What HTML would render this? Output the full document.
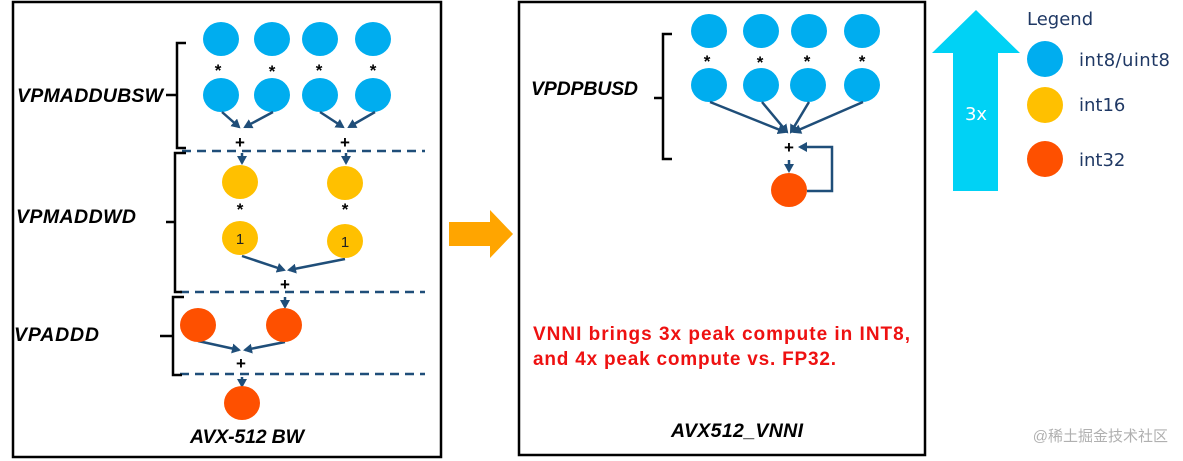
<!DOCTYPE html>
<html><head><meta charset="utf-8"><style>
html,body{margin:0;padding:0;background:#fff;}
svg{display:block;}
.lbl{font-family:"Liberation Sans",sans-serif;font-weight:bold;font-style:italic;font-size:19.5px;fill:#000;}
.op{font-family:"Liberation Sans",sans-serif;font-weight:bold;font-size:17px;fill:#000;}
.leg{font-family:"DejaVu Sans","Liberation Sans",sans-serif;font-size:18px;fill:#1f3864;}
</style></head><body>
<svg width="1183" height="461" viewBox="0 0 1183 461" xmlns="http://www.w3.org/2000/svg">
<defs>
<marker id="ah" markerWidth="10" markerHeight="10" refX="7" refY="5" orient="auto" markerUnits="userSpaceOnUse"><path d="M0,0 L9,5 L0,10 z" fill="#1f4e79"/></marker>
</defs>
<rect x="13" y="2" width="428" height="455" fill="none" stroke="#000" stroke-width="2.5"/>
<rect x="519" y="2" width="406" height="453" fill="none" stroke="#000" stroke-width="2.5"/>

<g fill="#00adef">
<ellipse cx="221" cy="39" rx="18" ry="17"/><ellipse cx="272" cy="39" rx="18" ry="17"/>
<ellipse cx="320" cy="39" rx="18" ry="17"/><ellipse cx="373" cy="39" rx="18" ry="17"/>
<ellipse cx="221" cy="95" rx="18" ry="17"/><ellipse cx="272" cy="95" rx="18" ry="17"/>
<ellipse cx="320" cy="95" rx="18" ry="17"/><ellipse cx="373" cy="95" rx="18" ry="17"/>
</g>
<text x="218" y="76" class="op" text-anchor="middle">*</text><text x="272" y="77" class="op" text-anchor="middle">*</text>
<text x="319" y="76" class="op" text-anchor="middle">*</text><text x="373" y="76" class="op" text-anchor="middle">*</text>
<g stroke="#1f4e79" stroke-width="2.5" fill="none" marker-end="url(#ah)">
<line x1="222" y1="112" x2="239" y2="127"/><line x1="273" y1="112" x2="245" y2="127"/>
<line x1="320" y1="112" x2="343" y2="127"/><line x1="375" y1="112" x2="349" y2="127"/>
<line x1="242" y1="153" x2="242" y2="163"/><line x1="346" y1="153" x2="346" y2="163"/>
<line x1="242" y1="256" x2="284" y2="270"/><line x1="345" y1="259" x2="289" y2="270"/>
<line x1="285" y1="297" x2="285" y2="307"/>
<line x1="198" y1="341" x2="239" y2="350"/><line x1="285" y1="342" x2="245" y2="350"/>
<line x1="242" y1="377" x2="242" y2="386"/>
</g>
<text x="240" y="148" class="op" text-anchor="middle">+</text>
<text x="345" y="148" class="op" text-anchor="middle">+</text>
<text x="285" y="290" class="op" text-anchor="middle">+</text>
<text x="241" y="369" class="op" text-anchor="middle">+</text>
<g stroke="#1f4e79" stroke-width="2.5" stroke-dasharray="9,6">
<line x1="182" y1="151" x2="425" y2="151"/>
<line x1="180" y1="292" x2="425" y2="292"/>
<line x1="180" y1="374" x2="425" y2="374"/>
</g>
<g fill="#ffc000">
<ellipse cx="240" cy="182" rx="18" ry="17"/><ellipse cx="345" cy="183" rx="18" ry="17"/>
<ellipse cx="240" cy="238" rx="18" ry="17"/><ellipse cx="345" cy="241" rx="18" ry="17"/>
</g>
<text x="240" y="215" class="op" text-anchor="middle">*</text>
<text x="345" y="215" class="op" text-anchor="middle">*</text>
<text x="240" y="244" font-family="Liberation Sans,sans-serif" font-size="15" text-anchor="middle" fill="#222">1</text>
<text x="345" y="247" font-family="Liberation Sans,sans-serif" font-size="15" text-anchor="middle" fill="#222">1</text>
<g fill="#fe5000">
<ellipse cx="198" cy="325" rx="18" ry="17"/><ellipse cx="284" cy="325" rx="18" ry="17"/>
<ellipse cx="242" cy="403" rx="18" ry="17"/>
</g>
<g stroke="#000" stroke-width="2.5" fill="none">
<path d="M186,43 H177 V148 H186 M177,95 H166"/>
<path d="M186,153 H175 V292 H182 M175,222 H166"/>
<path d="M184,297 H173 V375 H182 M173,336 H160"/>
<path d="M672,34 H663 V159 H672 M663,98 H654"/>
</g>
<text x="17" y="102" class="lbl" textLength="146">VPMADDUBSW</text>
<text x="16" y="223" class="lbl" textLength="120">VPMADDWD</text>
<text x="14" y="341" class="lbl" textLength="85">VPADDD</text>
<text x="190" y="443" class="lbl" font-size="18" textLength="114">AVX-512 BW</text>

<polygon points="449,222 490,222 490,210 513,234 490,258 490,246 449,246" fill="#ffa500"/>

<g fill="#00adef">
<ellipse cx="709" cy="31" rx="18" ry="17"/><ellipse cx="761" cy="31" rx="18" ry="17"/>
<ellipse cx="809" cy="31" rx="18" ry="17"/><ellipse cx="862" cy="31" rx="18" ry="17"/>
<ellipse cx="709" cy="85" rx="18" ry="17"/><ellipse cx="761" cy="85" rx="18" ry="17"/>
<ellipse cx="808" cy="85" rx="18" ry="17"/><ellipse cx="862" cy="85" rx="18" ry="17"/>
</g>
<text x="707" y="67" class="op" text-anchor="middle">*</text><text x="760" y="68" class="op" text-anchor="middle">*</text>
<text x="807" y="67" class="op" text-anchor="middle">*</text><text x="862" y="67" class="op" text-anchor="middle">*</text>
<g stroke="#1f4e79" stroke-width="2.5" fill="none">
<line x1="710" y1="102" x2="785" y2="132" marker-end="url(#ah)"/>
<line x1="762" y1="102" x2="787" y2="132" marker-end="url(#ah)"/>
<line x1="809" y1="102" x2="791" y2="132" marker-end="url(#ah)"/>
<line x1="863" y1="102" x2="794" y2="132" marker-end="url(#ah)"/>
<line x1="789" y1="160" x2="789" y2="171" marker-end="url(#ah)"/>
<path d="M807,191 H832 V147 H800" marker-end="url(#ah)"/>
</g>
<text x="789" y="153" class="op" text-anchor="middle">+</text>
<ellipse cx="789" cy="190" rx="18" ry="17" fill="#fe5000"/>
<text x="531" y="95" class="lbl" textLength="107">VPDPBUSD</text>
<text x="533" y="340" font-family="Liberation Sans,sans-serif" font-weight="bold" font-size="19" fill="#ee1111" textLength="377">VNNI brings 3x peak compute in INT8,</text>
<text x="533" y="365" font-family="Liberation Sans,sans-serif" font-weight="bold" font-size="19" fill="#ee1111" textLength="303">and 4x peak compute vs. FP32.</text>
<text x="671" y="437" class="lbl" font-size="18" textLength="132">AVX512_VNNI</text>

<polygon points="953,191 998,191 998,53 1020,53 976,10 932,53 953,53" fill="#00d2f5"/>
<text x="976" y="120" font-family="DejaVu Sans,Liberation Sans,sans-serif" font-size="18" fill="#fff" text-anchor="middle">3x</text>
<text x="1027" y="25" class="leg" font-size="19">Legend</text>
<circle cx="1045" cy="59" r="18" fill="#00adef"/>
<circle cx="1045" cy="105" r="18" fill="#ffc000"/>
<circle cx="1045" cy="159" r="18" fill="#fe5000"/>
<text x="1079" y="66" class="leg" textLength="91">int8/uint8</text>
<text x="1079" y="111" class="leg">int16</text>
<text x="1079" y="166" class="leg">int32</text>
<text x="1168" y="441" font-family="Liberation Sans,'Noto Sans CJK SC',sans-serif" font-size="15" fill="#b0b0b0" text-anchor="end">@稀土掘金技术社区</text>
</svg>
</body></html>
